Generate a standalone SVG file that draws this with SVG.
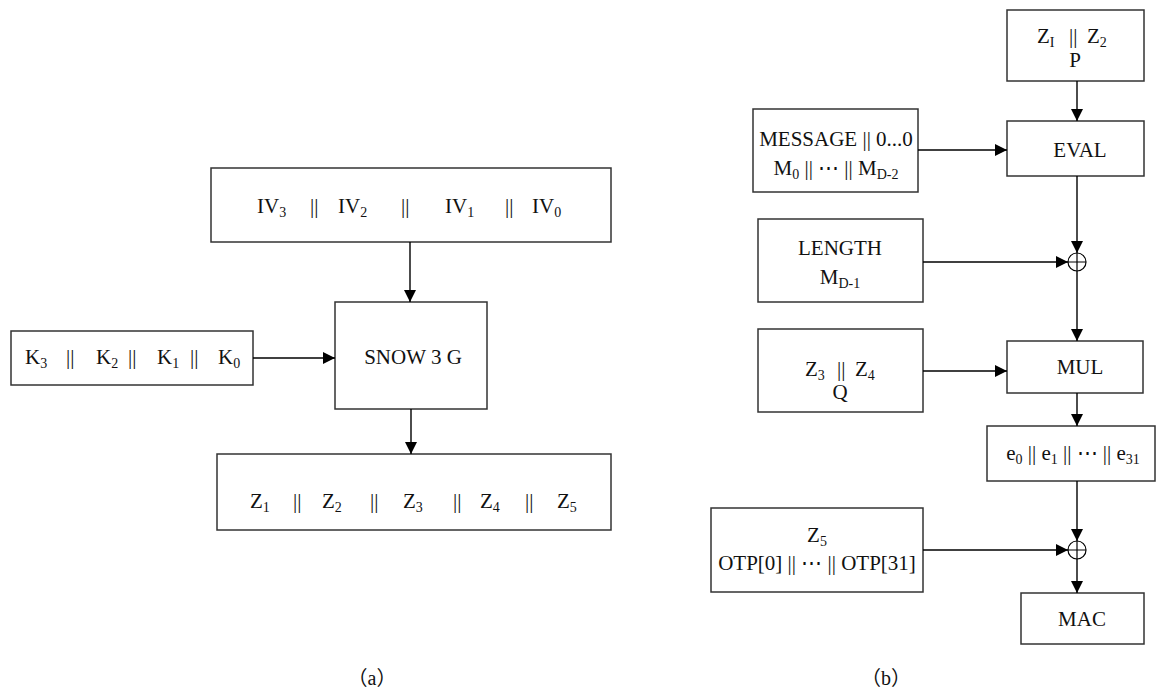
<svg xmlns="http://www.w3.org/2000/svg" width="1157" height="690" viewBox="0 0 1157 690">
  <style>
    .box { fill: #ffffff; stroke: #333333; stroke-width: 1.5; }
    .wire { fill: none; stroke: #000000; stroke-width: 1.4; }
    .t { font-family: "Liberation Serif", "Times New Roman", serif; font-size: 21px; fill: #111111; }
    .c { text-anchor: middle; }
    .sub { font-size: 14px; }
    .cap { font-family: "Liberation Serif", "Noto Sans CJK SC", serif; font-size: 20px; fill: #111111; text-anchor: middle; }
  </style>
  <defs>
    <marker id="ah" markerWidth="12" markerHeight="12" refX="12" refY="6" orient="auto" markerUnits="userSpaceOnUse">
      <path d="M0,0 L12,6 L0,12 z" fill="#000000"/>
    </marker>
  </defs>

  <rect width="1157" height="690" fill="#ffffff"/>

  <!-- (a) key schedule -->
  <g id="iv">
    <rect class="box" x="211" y="168" width="400" height="74"/>
    <text class="t" y="213">
      <tspan x="257">IV<tspan class="sub" dy="4">3</tspan></tspan>
      <tspan x="310" dy="-4">||</tspan>
      <tspan x="338">IV<tspan class="sub" dy="4">2</tspan></tspan>
      <tspan x="401" dy="-4">||</tspan>
      <tspan x="445">IV<tspan class="sub" dy="4">1</tspan></tspan>
      <tspan x="505" dy="-4">||</tspan>
      <tspan x="532">IV<tspan class="sub" dy="4">0</tspan></tspan>
    </text>
  </g>
  <g id="key">
    <rect class="box" x="11" y="331" width="242" height="54"/>
    <text class="t" y="364">
      <tspan x="25">K<tspan class="sub" dy="4">3</tspan></tspan>
      <tspan x="66" dy="-4">||</tspan>
      <tspan x="96">K<tspan class="sub" dy="4">2</tspan></tspan>
      <tspan x="128" dy="-4">||</tspan>
      <tspan x="157">K<tspan class="sub" dy="4">1</tspan></tspan>
      <tspan x="190" dy="-4">||</tspan>
      <tspan x="218">K<tspan class="sub" dy="4">0</tspan></tspan>
    </text>
  </g>
  <g id="snow">
    <rect class="box" x="335" y="302" width="152" height="107"/>
    <text class="t c" x="413" y="364">SNOW 3 G</text>
  </g>
  <g id="zout">
    <rect class="box" x="217" y="454" width="394" height="76"/>
    <text class="t" y="508">
      <tspan x="250">Z<tspan class="sub" dy="4">1</tspan></tspan>
      <tspan x="293" dy="-4">||</tspan>
      <tspan x="322">Z<tspan class="sub" dy="4">2</tspan></tspan>
      <tspan x="370" dy="-4">||</tspan>
      <tspan x="403">Z<tspan class="sub" dy="4">3</tspan></tspan>
      <tspan x="453" dy="-4">||</tspan>
      <tspan x="480">Z<tspan class="sub" dy="4">4</tspan></tspan>
      <tspan x="525" dy="-4">||</tspan>
      <tspan x="557">Z<tspan class="sub" dy="4">5</tspan></tspan>
    </text>
  </g>
  <text id="cap-a" class="cap" x="372" y="685">（a）</text>

  <!-- (b) MAC computation -->
  <g id="zp">
    <rect class="box" x="1007" y="10" width="137" height="71"/>
    <text class="t" y="43">
      <tspan x="1037">Z<tspan class="sub" dy="4">I</tspan></tspan>
      <tspan x="1069" dy="-4">||</tspan>
      <tspan x="1087">Z<tspan class="sub" dy="4">2</tspan></tspan>
    </text>
    <text class="t c" x="1075" y="67">P</text>
  </g>
  <g id="eval">
    <rect class="box" x="1007" y="121" width="137" height="55"/>
    <text class="t c" x="1080" y="157">EVAL</text>
  </g>
  <g id="message">
    <rect class="box" x="753" y="109" width="165" height="83"/>
    <text class="t c" x="836" y="146">MESSAGE || 0...0</text>
    <text class="t c" x="836" y="175">M<tspan class="sub" dy="4">0</tspan><tspan dy="-4"> || ⋯ || M</tspan><tspan class="sub" dy="4">D-2</tspan></text>
  </g>
  <g id="length">
    <rect class="box" x="758" y="219" width="165" height="83"/>
    <text class="t c" x="840" y="255">LENGTH</text>
    <text class="t c" x="840" y="284">M<tspan class="sub" dy="4">D-1</tspan></text>
  </g>
  <g id="xor1">
    <circle cx="1077" cy="262" r="9" fill="#ffffff" stroke="#000000" stroke-width="1.2"/>
    <path d="M1068,262 H1086 M1077,253 V271" stroke="#000000" stroke-width="1.2"/>
  </g>
  <g id="zq">
    <rect class="box" x="758" y="329" width="165" height="83"/>
    <text class="t" y="376">
      <tspan x="805">Z<tspan class="sub" dy="4">3</tspan></tspan>
      <tspan x="837" dy="-4">||</tspan>
      <tspan x="855">Z<tspan class="sub" dy="4">4</tspan></tspan>
    </text>
    <text class="t c" x="840" y="399">Q</text>
  </g>
  <g id="mul">
    <rect class="box" x="1007" y="341" width="136" height="52"/>
    <text class="t c" x="1080" y="374">MUL</text>
  </g>
  <g id="ebits">
    <rect class="box" x="987" y="426" width="168" height="55"/>
    <text class="t c" x="1073" y="460">e<tspan class="sub" dy="4">0</tspan><tspan dy="-4"> || e</tspan><tspan class="sub" dy="4">1</tspan><tspan dy="-4"> || ⋯ || e</tspan><tspan class="sub" dy="4">31</tspan></text>
  </g>
  <g id="otp">
    <rect class="box" x="711" y="508" width="212" height="84"/>
    <text class="t c" x="817" y="542">Z<tspan class="sub" dy="4">5</tspan></text>
    <text class="t c" x="817" y="570">OTP[0] || ⋯ || OTP[31]</text>
  </g>
  <g id="xor2">
    <circle cx="1077" cy="550" r="9" fill="#ffffff" stroke="#000000" stroke-width="1.2"/>
    <path d="M1068,550 H1086 M1077,541 V559" stroke="#000000" stroke-width="1.2"/>
  </g>
  <g id="mac">
    <rect class="box" x="1021" y="593" width="123" height="51"/>
    <text class="t c" x="1082" y="626">MAC</text>
  </g>
  <text id="cap-b" class="cap" x="886" y="685">（b）</text>

  <!-- connectors -->
  <g id="connectors" class="wire">
    <line x1="410" y1="242" x2="410" y2="302" marker-end="url(#ah)"/>
    <line x1="253" y1="358" x2="335" y2="358" marker-end="url(#ah)"/>
    <line x1="411" y1="409" x2="411" y2="454" marker-end="url(#ah)"/>

    <line x1="1077" y1="81" x2="1077" y2="121" marker-end="url(#ah)"/>
    <line x1="918" y1="150" x2="1007" y2="150" marker-end="url(#ah)"/>
    <line x1="1077" y1="176" x2="1077" y2="253" marker-end="url(#ah)"/>
    <line x1="923" y1="262" x2="1068" y2="262" marker-end="url(#ah)"/>
    <line x1="1077" y1="271" x2="1077" y2="341" marker-end="url(#ah)"/>
    <line x1="923" y1="371" x2="1007" y2="371" marker-end="url(#ah)"/>
    <line x1="1077" y1="393" x2="1077" y2="426" marker-end="url(#ah)"/>
    <line x1="1077" y1="481" x2="1077" y2="541" marker-end="url(#ah)"/>
    <line x1="923" y1="550" x2="1068" y2="550" marker-end="url(#ah)"/>
    <line x1="1077" y1="559" x2="1077" y2="593" marker-end="url(#ah)"/>
  </g>
</svg>
